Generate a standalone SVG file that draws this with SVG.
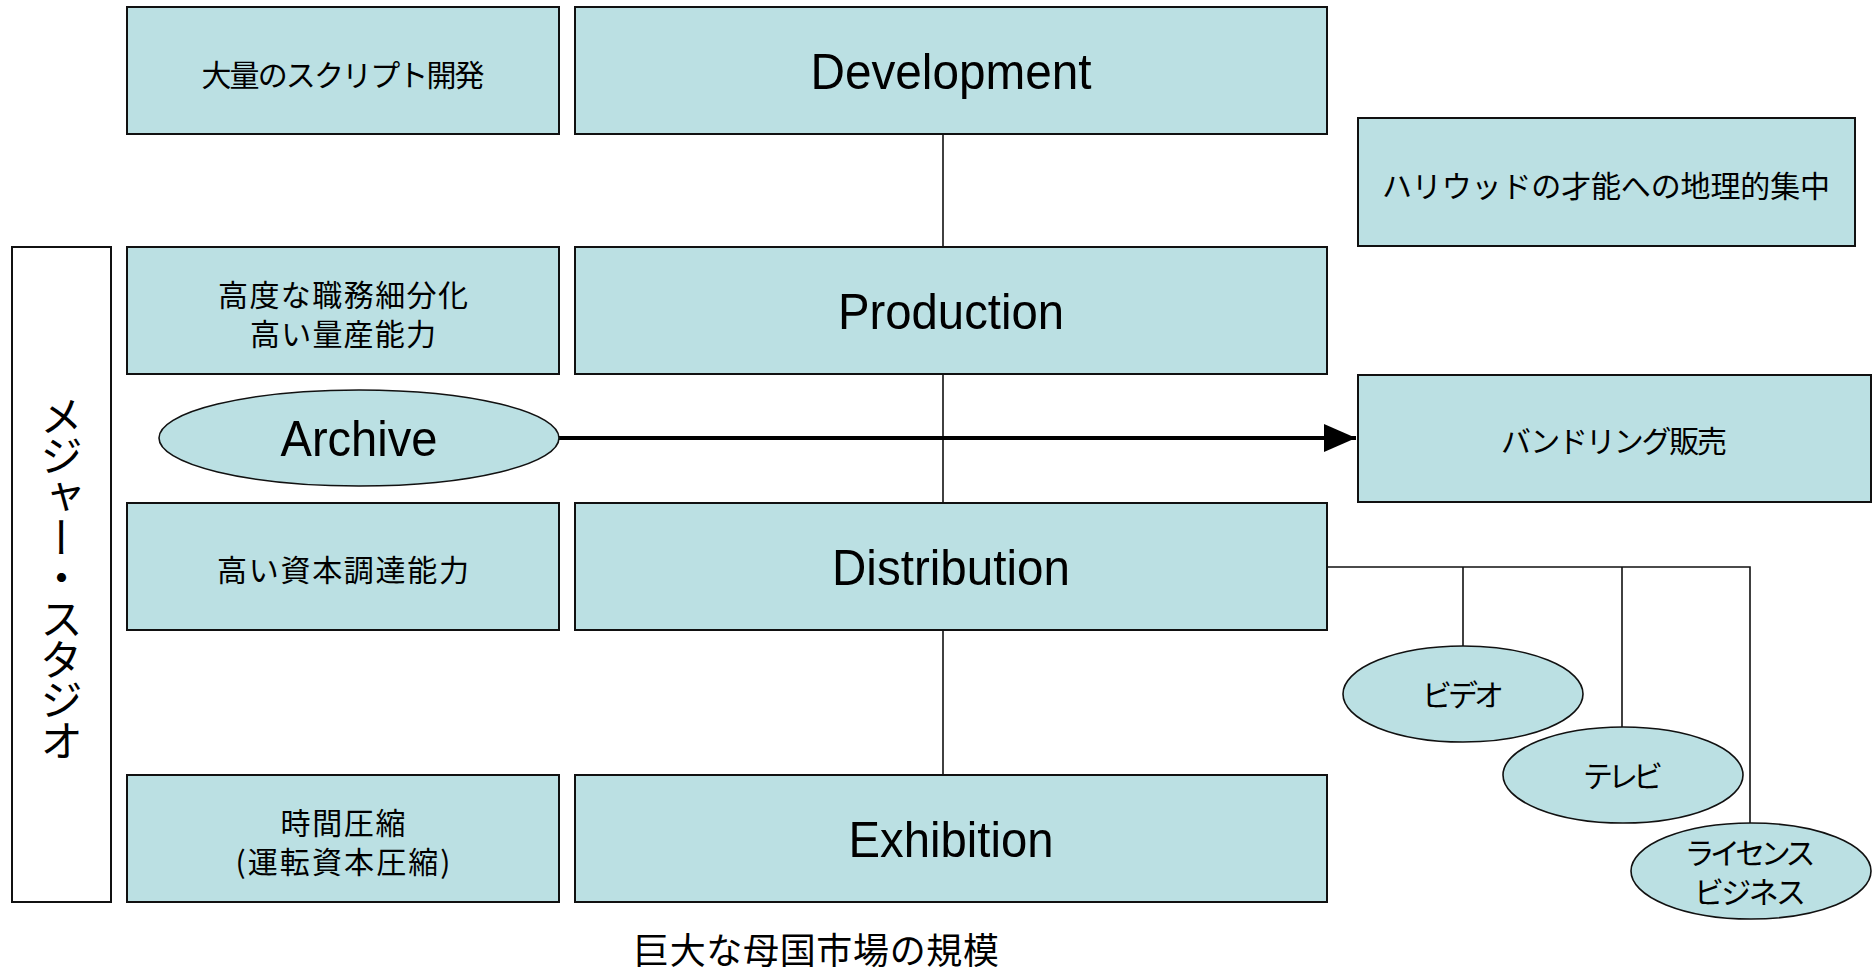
<svg xmlns="http://www.w3.org/2000/svg" width="1873" height="971" viewBox="0 0 1873 971">
<style>
.box{fill:#BBE0E3;stroke:#111;stroke-width:2}
.wbox{fill:#fff;stroke:#111;stroke-width:2}
.ell{fill:#BBE0E3;stroke:#111;stroke-width:1.6}
.big{font-family:"Liberation Sans",Arial,sans-serif;font-size:50px;fill:#000;text-anchor:middle}
.jp{font-family:"Noto Sans CJK JP","Noto Sans CJK SC",sans-serif;font-size:30px;fill:#000;text-anchor:middle}
.ln{stroke:#111;stroke-width:1.6;fill:none}
</style>
<defs>
<marker id="ah" markerWidth="8" markerHeight="7" refX="8" refY="3.5" orient="auto" markerUnits="strokeWidth">
<path d="M0,0 L8,3.5 L0,7 Z" fill="#000"/>
</marker>
</defs>
<rect width="1873" height="971" fill="#fff"/>
<g id="connectors">
<line class="ln" x1="943" y1="134" x2="943" y2="247"/>
<line class="ln" x1="943" y1="374" x2="943" y2="503"/>
<line class="ln" x1="943" y1="630" x2="943" y2="775"/>
<polyline class="ln" points="1327,567 1750,567 1750,823"/>
<line class="ln" x1="1463" y1="567" x2="1463" y2="646"/>
<line class="ln" x1="1622" y1="567" x2="1622" y2="727"/>
<line stroke="#000" stroke-width="4" x1="559" y1="438" x2="1356" y2="438" marker-end="url(#ah)"/>
</g>
<g id="n-script"><rect class="box" x="127" y="7" width="432" height="127"/><text class="jp" x="343" y="86" textLength="283">大量のスクリプト開発</text></g>
<g id="n-development"><rect class="box" x="575" y="7" width="752" height="127"/><text class="big" x="951" y="89" textLength="281" lengthAdjust="spacingAndGlyphs">Development</text></g>
<g id="n-hollywood"><rect class="box" x="1358" y="118" width="497" height="128"/><text class="jp" x="1606" y="197" textLength="448">ハリウッドの才能への地理的集中</text></g>
<g id="n-major"><rect class="wbox" x="12" y="247" width="99" height="655"/><text x="61.5" y="578" textLength="368" style="writing-mode:vertical-rl;font-family:'Noto Sans CJK JP',sans-serif;font-size:43px;text-anchor:middle">メジャー・スタジオ</text></g>
<g id="n-division"><rect class="box" x="127" y="247" width="432" height="127"/><text class="jp" x="343" y="306" textLength="250">高度な職務細分化</text><text class="jp" x="343" y="345" textLength="186">高い量産能力</text></g>
<g id="n-production"><rect class="box" x="575" y="247" width="752" height="127"/><text class="big" x="951" y="329" textLength="226" lengthAdjust="spacingAndGlyphs">Production</text></g>
<g id="n-archive"><ellipse class="ell" cx="359" cy="438" rx="200" ry="48"/><text class="big" x="359" y="456" textLength="157" lengthAdjust="spacingAndGlyphs">Archive</text></g>
<g id="n-bundling"><rect class="box" x="1358" y="375" width="513" height="127"/><text class="jp" x="1614" y="452" textLength="226">バンドリング販売</text></g>
<g id="n-capital"><rect class="box" x="127" y="503" width="432" height="127"/><text class="jp" x="343" y="581" textLength="252">高い資本調達能力</text></g>
<g id="n-distribution"><rect class="box" x="575" y="503" width="752" height="127"/><text class="big" x="951" y="585" textLength="238" lengthAdjust="spacingAndGlyphs">Distribution</text></g>
<g id="n-video"><ellipse class="ell" cx="1463" cy="694" rx="120" ry="48"/><text class="jp" x="1463" y="706" textLength="82">ビデオ</text></g>
<g id="n-tv"><ellipse class="ell" cx="1623" cy="775" rx="120" ry="48"/><text class="jp" x="1623" y="787" textLength="80">テレビ</text></g>
<g id="n-license"><ellipse class="ell" cx="1751" cy="871" rx="120" ry="48"/><text class="jp" x="1750" y="864" textLength="131">ライセンス</text><text class="jp" x="1750" y="903" textLength="112">ビジネス</text></g>
<g id="n-time"><rect class="box" x="127" y="775" width="432" height="127"/><text class="jp" x="343" y="834" textLength="125">時間圧縮</text><text class="jp" x="343" y="873" textLength="215">(運転資本圧縮)</text></g>
<g id="n-exhibition"><rect class="box" x="575" y="775" width="752" height="127"/><text class="big" x="951" y="857" textLength="205" lengthAdjust="spacingAndGlyphs">Exhibition</text></g>
<g id="n-market"><text class="jp" x="816" y="964" style="font-size:36px" textLength="366">巨大な母国市場の規模</text></g>
</svg>
